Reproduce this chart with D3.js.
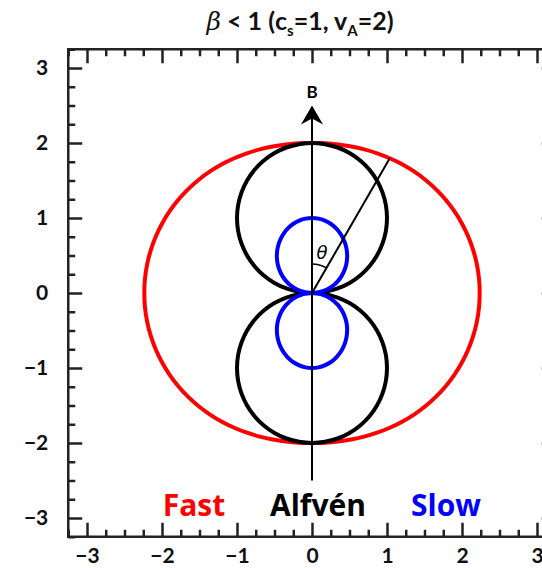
<!DOCTYPE html>
<html>
<head>
<meta charset="utf-8">
<script src="https://cdn.jsdelivr.net/npm/d3@7"></script>
<style>
  body { margin: 0; background: #fff; }
  svg { display: block; font-family: Lato, "Open Sans", sans-serif; }
  .frame .domain { display: none; }
  .frame line { stroke: #222; stroke-width: 2.5; }
  .frame text { font-size: 21px; font-weight: bold; fill: #111; font-family: Lato, sans-serif; }
</style>
</head>
<body>
<div id="chart"></div>
<script>
// plasma parameters shown in the title
const soundSpeed = 1, alfvenSpeedMax = 2;

// angle from B (degrees), one quadrant; other quadrants are mirror images
const angles = [0, 5, 10, 15, 20, 25, 30, 35, 40, 45, 50, 55, 60, 65, 70, 75, 80, 85, 90];
const fastSpeed = [2.000, 2.003, 2.010, 2.022, 2.037, 2.055, 2.074, 2.095, 2.116, 2.136,
                   2.155, 2.173, 2.189, 2.203, 2.215, 2.224, 2.231, 2.235, 2.236];
const alfvenSpeed = [2.000, 1.992, 1.970, 1.932, 1.879, 1.813, 1.732, 1.638, 1.532, 1.414,
                     1.286, 1.147, 1.000, 0.845, 0.684, 0.518, 0.347, 0.174, 0.000];
const slowSpeed = [1.000, 0.995, 0.980, 0.956, 0.923, 0.882, 0.835, 0.782, 0.724, 0.662,
                   0.597, 0.528, 0.457, 0.384, 0.309, 0.233, 0.156, 0.078, 0.000];

const tickLabels = [-3, -2, -1, 0, 1, 2, 3];
const minorTicks = d3.range(-13, 14).filter(i => i % 4 !== 0).map(i => i / 4);

const thetaMark = 30;       // angle of the example wave vector
const fieldLine = [-2.5, 2.5];

const width = 542, height = 568;
const margin = { left: 68.25, top: 49.25 };
const plotSize = 487.5;

const x = d3.scaleLinear().domain([-3.25, 3.25]).range([margin.left, margin.left + plotSize]);
const y = d3.scaleLinear().domain([-3.25, 3.25]).range([margin.top + plotSize, margin.top]);
const rad = v => x(v) - x(0);

const svg = d3.select("#chart").append("svg")
  .attr("width", width)
  .attr("height", height);

// title
const title = svg.append("text")
  .attr("x", 300).attr("y", 30)
  .attr("text-anchor", "middle")
  .style("font-size", "25px").style("font-weight", "bold").style("fill", "#111");
title.append("tspan").text("β").style("font-style", "italic").style("font-weight", "normal")
  .style("font-family", "DejaVu Serif");
title.append("tspan").text(" < 1 (c");
title.append("tspan").text("s").attr("dy", 6).style("font-size", "15px");
title.append("tspan").text("=1, v").attr("dy", -6);
title.append("tspan").text("A").attr("dy", 6).style("font-size", "15px");
title.append("tspan").text("=2)").attr("dy", -6);

// frame with inward ticks
const axes = [
  { gen: d3.axisBottom(x), t: `translate(0,${y(-3.25)})`, pad: 11 },
  { gen: d3.axisTop(x), t: `translate(0,${y(3.25)})`, pad: null },
  { gen: d3.axisLeft(y), t: `translate(${x(-3.25)},0)`, pad: 20 },
  { gen: d3.axisRight(y), t: `translate(${x(3.25)},0)`, pad: null }
];
axes.forEach(a => {
  const g = svg.append("g").attr("class", "frame").attr("transform", a.t);
  g.call(a.gen.tickValues(tickLabels).tickSize(-14)
    .tickPadding(a.pad || 0)
    .tickFormat(a.pad ? d3.format("d") : ""));
  g.append("g").call(a.gen.tickValues(minorTicks).tickSize(-7).tickFormat(""));
});
svg.append("rect")
  .attr("x", x(-3.25)).attr("y", y(3.25))
  .attr("width", plotSize).attr("height", plotSize)
  .attr("fill", "none").attr("stroke", "#222").attr("stroke-width", 2.5);

// speed at any angle from the quadrant tables (mirror symmetry)
function speedAt(table, deg) {
  let t = Math.abs(deg) % 360;
  if (t > 180) t = 360 - t;
  if (t > 90) t = 180 - t;
  return table[angles.indexOf(t)];
}
function loop(table, from, to) {
  return d3.range(from, to, 5).map(a => [a * Math.PI / 180, rad(speedAt(table, a))]);
}

const radial = d3.lineRadial().curve(d3.curveCatmullRomClosed.alpha(0.5));
const center = svg.append("g").attr("transform", `translate(${x(0)},${y(0)})`);

const curves = [
  { pts: loop(fastSpeed, -180, 180), color: "#ff0000" },
  { pts: loop(alfvenSpeed, -85, 91), color: "#000" },
  { pts: loop(alfvenSpeed, 95, 271), color: "#000" },
  { pts: loop(slowSpeed, -85, 91), color: "#0000ff" },
  { pts: loop(slowSpeed, 95, 271), color: "#0000ff" }
];
center.selectAll("path.curve")
  .data(curves)
  .enter().append("path")
  .attr("class", "curve")
  .attr("d", d => radial(d.pts))
  .attr("fill", "none")
  .attr("stroke", d => d.color)
  .attr("stroke-width", 4);

// magnetic field direction
svg.append("line")
  .attr("x1", x(0)).attr("x2", x(0))
  .attr("y1", y(fieldLine[0])).attr("y2", y(fieldLine[1]) + 8)
  .attr("stroke", "#000").attr("stroke-width", 2);
svg.append("path")
  .attr("transform", `translate(${x(0)},${y(fieldLine[1])})`)
  .attr("d", "M0,0 L11,19 L0,13 L-11,19 Z")
  .attr("fill", "#000");
svg.append("text")
  .attr("x", x(0)).attr("y", y(fieldLine[1]) - 8)
  .attr("text-anchor", "middle")
  .style("font-size", "17px").style("font-weight", "bold")
  .text("B");

// wave vector at theta
const th = thetaMark * Math.PI / 180;
const rk = rad(speedAt(fastSpeed, thetaMark));
center.append("line")
  .attr("x1", 0).attr("y1", 0)
  .attr("x2", rk * Math.sin(th)).attr("y2", -rk * Math.cos(th))
  .attr("stroke", "#000").attr("stroke-width", 2);
center.append("path")
  .attr("d", d3.arc()({ innerRadius: 29, outerRadius: 29, startAngle: 0, endAngle: th }))
  .attr("fill", "none").attr("stroke", "#000").attr("stroke-width", 1.5);
center.append("text")
  .attr("x", 10).attr("y", -34)
  .attr("text-anchor", "middle")
  .style("font-size", "18px").style("font-style", "italic")
  .style("font-family", "DejaVu Sans")
  .text("θ");

// legend
const legend = [
  { name: "Fast", color: "#ff0000", cx: 194 },
  { name: "Alfvén", color: "#000", cx: 318 },
  { name: "Slow", color: "#0000ff", cx: 446 }
];
svg.selectAll("text.legend")
  .data(legend)
  .enter().append("text")
  .attr("class", "legend")
  .attr("x", d => d.cx).attr("y", 516)
  .attr("text-anchor", "middle")
  .style("font-size", "30px").style("font-weight", "bold")
  .style("font-family", "'Open Sans', sans-serif")
  .style("fill", d => d.color)
  .text(d => d.name);
</script>
</body>
</html>
